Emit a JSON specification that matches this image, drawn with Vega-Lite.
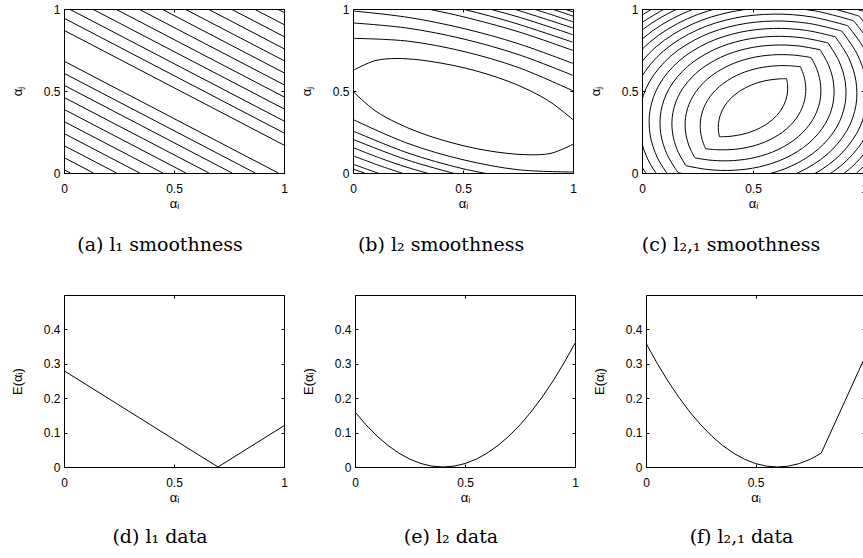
{
  "$schema": "https://vega.github.io/schema/vega-lite/v6.json",
  "padding": {"left": 10, "top": 2, "right": 0, "bottom": 0},
  "background": "white",
  "config": {
    "view": {"stroke": "black", "strokeWidth": 1},
    "axis": {"grid": false, "domain": false, "ticks": true, "tickSize": -3, "tickColor": "black", "tickWidth": 1,
      "labelFont": "Liberation Sans", "labelFontSize": 12, "labelColor": "black", "labelPadding": 7,
      "titleFont": "Liberation Sans", "titleFontSize": 13, "titleFontWeight": "normal", "titleColor": "black",
      "labelOverlap": false, "labelBound": false, "labelFlush": false},
    "axisBottom": {"titlePadding": 3, "labelPadding": 13},
    "axisLeft": {"minExtent": 30, "maxExtent": 30, "titlePadding": 10},
    "axisTop": {"labels": false, "title": null, "minExtent": 0, "maxExtent": 0},
    "axisRight": {"labels": false, "title": null, "minExtent": 0, "maxExtent": 0},
    "title": {"font": "DejaVu Serif", "fontSize": 19, "fontWeight": "normal", "color": "black", "orient": "bottom", "anchor": "middle", "offset": 26}
  },
  "datasets": {
    "a": [
      {"x1": 0, "y1": 0.02, "x2": 0.029, "y2": 0},
      {"x1": 0, "y1": 0.094, "x2": 0.134, "y2": 0},
      {"x1": 0, "y1": 0.167, "x2": 0.239, "y2": 0},
      {"x1": 0, "y1": 0.241, "x2": 0.344, "y2": 0},
      {"x1": 0, "y1": 0.314, "x2": 0.449, "y2": 0},
      {"x1": 0, "y1": 0.388, "x2": 0.554, "y2": 0},
      {"x1": 0, "y1": 0.461, "x2": 0.659, "y2": 0},
      {"x1": 0, "y1": 0.535, "x2": 0.764, "y2": 0},
      {"x1": 0, "y1": 0.608, "x2": 0.869, "y2": 0},
      {"x1": 0, "y1": 0.682, "x2": 0.974, "y2": 0},
      {"x1": 0, "y1": 0.87, "x2": 1, "y2": 0.17},
      {"x1": 0, "y1": 0.944, "x2": 1, "y2": 0.244},
      {"x1": 0.024, "y1": 1, "x2": 1, "y2": 0.317},
      {"x1": 0.129, "y1": 1, "x2": 1, "y2": 0.391},
      {"x1": 0.234, "y1": 1, "x2": 1, "y2": 0.464},
      {"x1": 0.339, "y1": 1, "x2": 1, "y2": 0.538},
      {"x1": 0.444, "y1": 1, "x2": 1, "y2": 0.611},
      {"x1": 0.549, "y1": 1, "x2": 1, "y2": 0.685},
      {"x1": 0.654, "y1": 1, "x2": 1, "y2": 0.758},
      {"x1": 0.759, "y1": 1, "x2": 1, "y2": 0.832},
      {"x1": 0.864, "y1": 1, "x2": 1, "y2": 0.905},
      {"x1": 0.969, "y1": 1, "x2": 1, "y2": 0.979}
    ],
    "b": [
      {"c": "e1t", "o": 0, "x": 0, "y": 0.625}, {"c": "e1t", "o": 1, "x": 0.1, "y": 0.685}, {"c": "e1t", "o": 2, "x": 0.2, "y": 0.698}, {"c": "e1t", "o": 3, "x": 0.3, "y": 0.69}, {"c": "e1t", "o": 4, "x": 0.4, "y": 0.67}, {"c": "e1t", "o": 5, "x": 0.5, "y": 0.643}, {"c": "e1t", "o": 6, "x": 0.6, "y": 0.607}, {"c": "e1t", "o": 7, "x": 0.7, "y": 0.562}, {"c": "e1t", "o": 8, "x": 0.8, "y": 0.505}, {"c": "e1t", "o": 9, "x": 0.9, "y": 0.43}, {"c": "e1t", "o": 10, "x": 1, "y": 0.325},
      {"c": "e1b", "o": 0, "x": 0, "y": 0.497}, {"c": "e1b", "o": 1, "x": 0.1, "y": 0.38}, {"c": "e1b", "o": 2, "x": 0.2, "y": 0.305}, {"c": "e1b", "o": 3, "x": 0.3, "y": 0.248}, {"c": "e1b", "o": 4, "x": 0.4, "y": 0.203}, {"c": "e1b", "o": 5, "x": 0.5, "y": 0.167}, {"c": "e1b", "o": 6, "x": 0.6, "y": 0.139}, {"c": "e1b", "o": 7, "x": 0.7, "y": 0.12}, {"c": "e1b", "o": 8, "x": 0.8, "y": 0.111}, {"c": "e1b", "o": 9, "x": 0.9, "y": 0.12}, {"c": "e1b", "o": 10, "x": 1, "y": 0.175},
      {"c": "u2", "o": 0, "x": 0, "y": 0.821}, {"c": "u2", "o": 1, "x": 0.25, "y": 0.804}, {"c": "u2", "o": 2, "x": 0.5, "y": 0.742}, {"c": "u2", "o": 3, "x": 0.75, "y": 0.644}, {"c": "u2", "o": 4, "x": 1, "y": 0.501},
      {"c": "u3", "o": 0, "x": 0, "y": 0.915}, {"c": "u3", "o": 1, "x": 0.25, "y": 0.883}, {"c": "u3", "o": 2, "x": 0.5, "y": 0.818}, {"c": "u3", "o": 3, "x": 0.75, "y": 0.723}, {"c": "u3", "o": 4, "x": 1, "y": 0.595},
      {"c": "u4", "o": 0, "x": 0, "y": 0.988}, {"c": "u4", "o": 1, "x": 0.25, "y": 0.949}, {"c": "u4", "o": 2, "x": 0.5, "y": 0.882}, {"c": "u4", "o": 3, "x": 0.75, "y": 0.789}, {"c": "u4", "o": 4, "x": 1, "y": 0.668},
      {"c": "u5", "o": 0, "x": 0.25, "y": 1.022}, {"c": "u5", "o": 1, "x": 0.375, "y": 0.99}, {"c": "u5", "o": 2, "x": 0.5, "y": 0.953}, {"c": "u5", "o": 3, "x": 0.75, "y": 0.862}, {"c": "u5", "o": 4, "x": 1, "y": 0.747},
      {"c": "u6", "o": 0, "x": 0.375, "y": 1.036}, {"c": "u6", "o": 1, "x": 0.5, "y": 0.999}, {"c": "u6", "o": 2, "x": 0.625, "y": 0.956}, {"c": "u6", "o": 3, "x": 0.75, "y": 0.908}, {"c": "u6", "o": 4, "x": 1, "y": 0.797},
      {"c": "u7", "o": 0, "x": 0.5, "y": 1.042}, {"c": "u7", "o": 1, "x": 0.75, "y": 0.952}, {"c": "u7", "o": 2, "x": 1, "y": 0.843},
      {"c": "u8", "o": 0, "x": 0.625, "y": 1.039}, {"c": "u8", "o": 1, "x": 0.75, "y": 0.992}, {"c": "u8", "o": 2, "x": 1, "y": 0.884},
      {"c": "u9", "o": 0, "x": 0.75, "y": 1.028}, {"c": "u9", "o": 1, "x": 0.875, "y": 0.977}, {"c": "u9", "o": 2, "x": 1, "y": 0.922},
      {"c": "u10", "o": 0, "x": 0.75, "y": 1.062}, {"c": "u10", "o": 1, "x": 0.875, "y": 1.012}, {"c": "u10", "o": 2, "x": 1, "y": 0.957},
      {"c": "u11", "o": 0, "x": 0.875, "y": 1.037}, {"c": "u11", "o": 1, "x": 1, "y": 0.983},
      {"c": "l1", "o": 0, "x": 0, "y": 0.326}, {"c": "l1", "o": 1, "x": 0.25, "y": 0.18}, {"c": "l1", "o": 2, "x": 0.5, "y": 0.081}, {"c": "l1", "o": 3, "x": 0.75, "y": 0.02}, {"c": "l1", "o": 4, "x": 1, "y": 0.006},
      {"c": "l2", "o": 0, "x": 0, "y": 0.256}, {"c": "l2", "o": 1, "x": 0.25, "y": 0.122}, {"c": "l2", "o": 2, "x": 0.5, "y": 0.026}, {"c": "l2", "o": 3, "x": 0.75, "y": -0.038},
      {"c": "l3", "o": 0, "x": 0, "y": 0.205}, {"c": "l3", "o": 1, "x": 0.25, "y": 0.078}, {"c": "l3", "o": 2, "x": 0.5, "y": -0.017},
      {"c": "l4", "o": 0, "x": 0, "y": 0.155}, {"c": "l4", "o": 1, "x": 0.125, "y": 0.09}, {"c": "l4", "o": 2, "x": 0.25, "y": 0.033}, {"c": "l4", "o": 3, "x": 0.5, "y": -0.06},
      {"c": "l5", "o": 0, "x": 0, "y": 0.105}, {"c": "l5", "o": 1, "x": 0.125, "y": 0.043}, {"c": "l5", "o": 2, "x": 0.25, "y": -0.013},
      {"c": "l6", "o": 0, "x": 0, "y": 0.054}, {"c": "l6", "o": 1, "x": 0.125, "y": -0.006}, {"c": "l6", "o": 2, "x": 0.25, "y": -0.06},
      {"c": "l7", "o": 0, "x": 0, "y": 0.024}, {"c": "l7", "o": 1, "x": 0.125, "y": -0.035}
    ],
    "c": [
      {"c": "k1u", "o": 0, "x": 0.349, "y": 0.221}, {"c": "k1u", "o": 1, "x": 0.3445, "y": 0.2556}, {"c": "k1u", "o": 2, "x": 0.3444, "y": 0.3016}, {"c": "k1u", "o": 3, "x": 0.3531, "y": 0.3553}, {"c": "k1u", "o": 4, "x": 0.3746, "y": 0.4134}, {"c": "k1u", "o": 5, "x": 0.4134, "y": 0.4721}, {"c": "k1u", "o": 6, "x": 0.4654, "y": 0.5194}, {"c": "k1u", "o": 7, "x": 0.5193, "y": 0.5497}, {"c": "k1u", "o": 8, "x": 0.5712, "y": 0.5666}, {"c": "k1u", "o": 9, "x": 0.6165, "y": 0.5736}, {"c": "k1u", "o": 10, "x": 0.651, "y": 0.575},
      {"c": "k1l", "o": 0, "x": 0.651, "y": 0.575}, {"c": "k1l", "o": 1, "x": 0.6555, "y": 0.5404}, {"c": "k1l", "o": 2, "x": 0.6556, "y": 0.4944}, {"c": "k1l", "o": 3, "x": 0.6469, "y": 0.4407}, {"c": "k1l", "o": 4, "x": 0.6254, "y": 0.3826}, {"c": "k1l", "o": 5, "x": 0.5866, "y": 0.3239}, {"c": "k1l", "o": 6, "x": 0.5346, "y": 0.2766}, {"c": "k1l", "o": 7, "x": 0.4807, "y": 0.2463}, {"c": "k1l", "o": 8, "x": 0.4288, "y": 0.2294}, {"c": "k1l", "o": 9, "x": 0.3835, "y": 0.2224}, {"c": "k1l", "o": 10, "x": 0.349, "y": 0.221},
      {"c": "k2u", "o": 0, "x": 0.2863, "y": 0.1481}, {"c": "k2u", "o": 1, "x": 0.2706, "y": 0.2048}, {"c": "k2u", "o": 2, "x": 0.2623, "y": 0.2768}, {"c": "k2u", "o": 3, "x": 0.2687, "y": 0.358}, {"c": "k2u", "o": 4, "x": 0.2954, "y": 0.4433}, {"c": "k2u", "o": 5, "x": 0.3488, "y": 0.5273}, {"c": "k2u", "o": 6, "x": 0.4236, "y": 0.5931}, {"c": "k2u", "o": 7, "x": 0.5037, "y": 0.6328}, {"c": "k2u", "o": 8, "x": 0.5829, "y": 0.6516}, {"c": "k2u", "o": 9, "x": 0.6552, "y": 0.6546}, {"c": "k2u", "o": 10, "x": 0.7137, "y": 0.6479},
      {"c": "k2l", "o": 0, "x": 0.7137, "y": 0.6479}, {"c": "k2l", "o": 1, "x": 0.7294, "y": 0.5912}, {"c": "k2l", "o": 2, "x": 0.7377, "y": 0.5192}, {"c": "k2l", "o": 3, "x": 0.7313, "y": 0.438}, {"c": "k2l", "o": 4, "x": 0.7046, "y": 0.3527}, {"c": "k2l", "o": 5, "x": 0.6512, "y": 0.2687}, {"c": "k2l", "o": 6, "x": 0.5764, "y": 0.2029}, {"c": "k2l", "o": 7, "x": 0.4963, "y": 0.1632}, {"c": "k2l", "o": 8, "x": 0.4171, "y": 0.1444}, {"c": "k2l", "o": 9, "x": 0.3448, "y": 0.1414}, {"c": "k2l", "o": 10, "x": 0.2863, "y": 0.1481},
      {"c": "k3u", "o": 0, "x": 0.2382, "y": 0.092}, {"c": "k3u", "o": 1, "x": 0.211, "y": 0.1683}, {"c": "k3u", "o": 2, "x": 0.1953, "y": 0.2612}, {"c": "k3u", "o": 3, "x": 0.1994, "y": 0.3636}, {"c": "k3u", "o": 4, "x": 0.2303, "y": 0.4697}, {"c": "k3u", "o": 5, "x": 0.295, "y": 0.5733}, {"c": "k3u", "o": 6, "x": 0.3873, "y": 0.6533}, {"c": "k3u", "o": 7, "x": 0.4874, "y": 0.7002}, {"c": "k3u", "o": 8, "x": 0.5879, "y": 0.7202}, {"c": "k3u", "o": 9, "x": 0.6822, "y": 0.7191}, {"c": "k3u", "o": 10, "x": 0.7618, "y": 0.704},
      {"c": "k3l", "o": 0, "x": 0.7618, "y": 0.704}, {"c": "k3l", "o": 1, "x": 0.789, "y": 0.6277}, {"c": "k3l", "o": 2, "x": 0.8047, "y": 0.5348}, {"c": "k3l", "o": 3, "x": 0.8006, "y": 0.4324}, {"c": "k3l", "o": 4, "x": 0.7697, "y": 0.3263}, {"c": "k3l", "o": 5, "x": 0.705, "y": 0.2227}, {"c": "k3l", "o": 6, "x": 0.6127, "y": 0.1427}, {"c": "k3l", "o": 7, "x": 0.5126, "y": 0.0958}, {"c": "k3l", "o": 8, "x": 0.4121, "y": 0.0758}, {"c": "k3l", "o": 9, "x": 0.3178, "y": 0.0769}, {"c": "k3l", "o": 10, "x": 0.2382, "y": 0.092},
      {"c": "k4u", "o": 0, "x": 0.1977, "y": 0.0446}, {"c": "k4u", "o": 1, "x": 0.1594, "y": 0.1386}, {"c": "k4u", "o": 2, "x": 0.137, "y": 0.2494}, {"c": "k4u", "o": 3, "x": 0.1394, "y": 0.3698}, {"c": "k4u", "o": 4, "x": 0.1735, "y": 0.4936}, {"c": "k4u", "o": 5, "x": 0.2479, "y": 0.6136}, {"c": "k4u", "o": 6, "x": 0.3549, "y": 0.7056}, {"c": "k4u", "o": 7, "x": 0.472, "y": 0.7586}, {"c": "k4u", "o": 8, "x": 0.5904, "y": 0.7796}, {"c": "k4u", "o": 9, "x": 0.7034, "y": 0.7748}, {"c": "k4u", "o": 10, "x": 0.8023, "y": 0.7514},
      {"c": "k4l", "o": 0, "x": 0.8023, "y": 0.7514}, {"c": "k4l", "o": 1, "x": 0.8406, "y": 0.6574}, {"c": "k4l", "o": 2, "x": 0.863, "y": 0.5466}, {"c": "k4l", "o": 3, "x": 0.8606, "y": 0.4262}, {"c": "k4l", "o": 4, "x": 0.8265, "y": 0.3024}, {"c": "k4l", "o": 5, "x": 0.7521, "y": 0.1824}, {"c": "k4l", "o": 6, "x": 0.6451, "y": 0.0904}, {"c": "k4l", "o": 7, "x": 0.528, "y": 0.0374}, {"c": "k4l", "o": 8, "x": 0.4096, "y": 0.0164}, {"c": "k4l", "o": 9, "x": 0.2966, "y": 0.0212}, {"c": "k4l", "o": 10, "x": 0.1977, "y": 0.0446},
      {"c": "k5u", "o": 0, "x": 0.1621, "y": 0.0029}, {"c": "k5u", "o": 1, "x": 0.1129, "y": 0.1134}, {"c": "k5u", "o": 2, "x": 0.0846, "y": 0.2402}, {"c": "k5u", "o": 3, "x": 0.0855, "y": 0.3761}, {"c": "k5u", "o": 4, "x": 0.1226, "y": 0.5154}, {"c": "k5u", "o": 5, "x": 0.2055, "y": 0.6499}, {"c": "k5u", "o": 6, "x": 0.3254, "y": 0.7526}, {"c": "k5u", "o": 7, "x": 0.4573, "y": 0.8109}, {"c": "k5u", "o": 8, "x": 0.5914, "y": 0.8328}, {"c": "k5u", "o": 9, "x": 0.7211, "y": 0.8246}, {"c": "k5u", "o": 10, "x": 0.8379, "y": 0.7931},
      {"c": "k5l", "o": 0, "x": 0.8379, "y": 0.7931}, {"c": "k5l", "o": 1, "x": 0.8871, "y": 0.6826}, {"c": "k5l", "o": 2, "x": 0.9154, "y": 0.5558}, {"c": "k5l", "o": 3, "x": 0.9145, "y": 0.4199}, {"c": "k5l", "o": 4, "x": 0.8774, "y": 0.2806}, {"c": "k5l", "o": 5, "x": 0.7945, "y": 0.1461}, {"c": "k5l", "o": 6, "x": 0.6746, "y": 0.0434}, {"c": "k5l", "o": 7, "x": 0.5427, "y": -0.0149}, {"c": "k5l", "o": 8, "x": 0.4086, "y": -0.0368}, {"c": "k5l", "o": 9, "x": 0.2789, "y": -0.0286}, {"c": "k5l", "o": 10, "x": 0.1621, "y": 0.0029},
      {"c": "k6u", "o": 0, "x": 0.1298, "y": -0.0348}, {"c": "k6u", "o": 1, "x": 0.0702, "y": 0.091}, {"c": "k6u", "o": 2, "x": 0.0367, "y": 0.2323}, {"c": "k6u", "o": 3, "x": 0.0362, "y": 0.3826}, {"c": "k6u", "o": 4, "x": 0.0761, "y": 0.5356}, {"c": "k6u", "o": 5, "x": 0.1666, "y": 0.6832}, {"c": "k6u", "o": 6, "x": 0.2983, "y": 0.7954}, {"c": "k6u", "o": 7, "x": 0.4434, "y": 0.8586}, {"c": "k6u", "o": 8, "x": 0.5919, "y": 0.8815}, {"c": "k6u", "o": 9, "x": 0.7366, "y": 0.8702}, {"c": "k6u", "o": 10, "x": 0.8702, "y": 0.8308},
      {"c": "k6l", "o": 0, "x": 0.8702, "y": 0.8308}, {"c": "k6l", "o": 1, "x": 0.9298, "y": 0.705}, {"c": "k6l", "o": 2, "x": 0.9633, "y": 0.5637}, {"c": "k6l", "o": 3, "x": 0.9638, "y": 0.4134}, {"c": "k6l", "o": 4, "x": 0.9239, "y": 0.2604}, {"c": "k6l", "o": 5, "x": 0.8334, "y": 0.1128}, {"c": "k6l", "o": 6, "x": 0.7017, "y": 0.0006}, {"c": "k6l", "o": 7, "x": 0.5566, "y": -0.0626}, {"c": "k6l", "o": 8, "x": 0.4081, "y": -0.0855}, {"c": "k6l", "o": 9, "x": 0.2634, "y": -0.0742}, {"c": "k6l", "o": 10, "x": 0.1298, "y": -0.0348},
      {"c": "k7u", "o": 0, "x": 0.1002, "y": -0.0695}, {"c": "k7u", "o": 1, "x": 0.0307, "y": 0.071}, {"c": "k7u", "o": 2, "x": -0.0079, "y": 0.2254}, {"c": "k7u", "o": 3, "x": -0.0096, "y": 0.3887}, {"c": "k7u", "o": 4, "x": 0.033, "y": 0.5547}, {"c": "k7u", "o": 5, "x": 0.1304, "y": 0.7141}, {"c": "k7u", "o": 6, "x": 0.2728, "y": 0.8351}, {"c": "k7u", "o": 7, "x": 0.4302, "y": 0.9029}, {"c": "k7u", "o": 8, "x": 0.5917, "y": 0.9266}, {"c": "k7u", "o": 9, "x": 0.7503, "y": 0.9124}, {"c": "k7u", "o": 10, "x": 0.8998, "y": 0.8655},
      {"c": "k7l", "o": 0, "x": 0.8998, "y": 0.8655}, {"c": "k7l", "o": 1, "x": 0.9693, "y": 0.725}, {"c": "k7l", "o": 2, "x": 1.0079, "y": 0.5706}, {"c": "k7l", "o": 3, "x": 1.0096, "y": 0.4073}, {"c": "k7l", "o": 4, "x": 0.967, "y": 0.2413}, {"c": "k7l", "o": 5, "x": 0.8696, "y": 0.0819}, {"c": "k7l", "o": 6, "x": 0.7272, "y": -0.0391}, {"c": "k7l", "o": 7, "x": 0.5698, "y": -0.1069}, {"c": "k7l", "o": 8, "x": 0.4083, "y": -0.1306}, {"c": "k7l", "o": 9, "x": 0.2497, "y": -0.1164}, {"c": "k7l", "o": 10, "x": 0.1002, "y": -0.0695},
      {"c": "k8u", "o": 0, "x": 0.0726, "y": -0.1018}, {"c": "k8u", "o": 1, "x": -0.0067, "y": 0.0525}, {"c": "k8u", "o": 2, "x": -0.0498, "y": 0.2192}, {"c": "k8u", "o": 3, "x": -0.0526, "y": 0.3946}, {"c": "k8u", "o": 4, "x": -0.0075, "y": 0.5724}, {"c": "k8u", "o": 5, "x": 0.0964, "y": 0.7432}, {"c": "k8u", "o": 6, "x": 0.2489, "y": 0.8724}, {"c": "k8u", "o": 7, "x": 0.4176, "y": 0.9446}, {"c": "k8u", "o": 8, "x": 0.5914, "y": 0.9688}, {"c": "k8u", "o": 9, "x": 0.7627, "y": 0.9521}, {"c": "k8u", "o": 10, "x": 0.9274, "y": 0.8978},
      {"c": "k8l", "o": 0, "x": 0.9274, "y": 0.8978}, {"c": "k8l", "o": 1, "x": 1.0067, "y": 0.7435}, {"c": "k8l", "o": 2, "x": 1.0498, "y": 0.5768}, {"c": "k8l", "o": 3, "x": 1.0526, "y": 0.4014}, {"c": "k8l", "o": 4, "x": 1.0075, "y": 0.2236}, {"c": "k8l", "o": 5, "x": 0.9036, "y": 0.0528}, {"c": "k8l", "o": 6, "x": 0.7511, "y": -0.0764}, {"c": "k8l", "o": 7, "x": 0.5824, "y": -0.1486}, {"c": "k8l", "o": 8, "x": 0.4086, "y": -0.1728},
      {"c": "k9u", "o": 0, "x": 0.0466, "y": -0.1321}, {"c": "k9u", "o": 1, "x": -0.0419, "y": 0.0354}, {"c": "k9u", "o": 2, "x": -0.0893, "y": 0.2136}, {"c": "k9u", "o": 3, "x": -0.093, "y": 0.4005}, {"c": "k9u", "o": 4, "x": -0.0457, "y": 0.5893}, {"c": "k9u", "o": 5, "x": 0.0644, "y": 0.7705}, {"c": "k9u", "o": 6, "x": 0.2263, "y": 0.9075}, {"c": "k9u", "o": 7, "x": 0.4056, "y": 0.9835}, {"c": "k9u", "o": 8, "x": 0.5907, "y": 1.0088}, {"c": "k9u", "o": 9, "x": 0.7743, "y": 0.9896}, {"c": "k9u", "o": 10, "x": 0.9534, "y": 0.9281},
      {"c": "k9l", "o": 0, "x": 0.9534, "y": 0.9281}, {"c": "k9l", "o": 1, "x": 1.0419, "y": 0.7606}, {"c": "k9l", "o": 2, "x": 1.0893, "y": 0.5824}, {"c": "k9l", "o": 3, "x": 1.093, "y": 0.3955}, {"c": "k9l", "o": 4, "x": 1.0457, "y": 0.2067}, {"c": "k9l", "o": 5, "x": 0.9356, "y": 0.0255}, {"c": "k9l", "o": 6, "x": 0.7737, "y": -0.1115}, {"c": "k9l", "o": 7, "x": 0.5944, "y": -0.1875},
      {"c": "k10u", "o": 0, "x": 0.0221, "y": -0.1608}, {"c": "k10u", "o": 1, "x": -0.0754, "y": 0.0194}, {"c": "k10u", "o": 2, "x": -0.1269, "y": 0.2085}, {"c": "k10u", "o": 3, "x": -0.1317, "y": 0.4061}, {"c": "k10u", "o": 4, "x": -0.0821, "y": 0.6055}, {"c": "k10u", "o": 5, "x": 0.034, "y": 0.7966}, {"c": "k10u", "o": 6, "x": 0.2047, "y": 0.9409}, {"c": "k10u", "o": 7, "x": 0.3941, "y": 1.0207}, {"c": "k10u", "o": 8, "x": 0.5899, "y": 1.0467}, {"c": "k10u", "o": 9, "x": 0.7848, "y": 1.0252}, {"c": "k10u", "o": 10, "x": 0.9779, "y": 0.9568},
      {"c": "k10l", "o": 0, "x": 0.9779, "y": 0.9568}, {"c": "k10l", "o": 1, "x": 1.0754, "y": 0.7766}, {"c": "k10l", "o": 2, "x": 1.1269, "y": 0.5875}, {"c": "k10l", "o": 3, "x": 1.1317, "y": 0.3899}, {"c": "k10l", "o": 4, "x": 1.0821, "y": 0.1905}, {"c": "k10l", "o": 5, "x": 0.966, "y": -0.0006}, {"c": "k10l", "o": 6, "x": 0.7953, "y": -0.1449}, {"c": "k10l", "o": 7, "x": 0.6059, "y": -0.2247},
      {"c": "k11u", "o": 0, "x": -0.1683, "y": 0.4115}, {"c": "k11u", "o": 1, "x": -0.116, "y": 0.621}, {"c": "k11u", "o": 2, "x": 0.0049, "y": 0.8214}, {"c": "k11u", "o": 3, "x": 0.184, "y": 0.9726}, {"c": "k11u", "o": 4, "x": 0.3831, "y": 1.0561}, {"c": "k11u", "o": 5, "x": 0.589, "y": 1.0829}, {"c": "k11u", "o": 6, "x": 0.7947, "y": 1.0592}, {"c": "k11u", "o": 7, "x": 1.0012, "y": 0.984},
      {"c": "k12u", "o": 0, "x": -0.1498, "y": 0.6359}, {"c": "k12u", "o": 1, "x": -0.023, "y": 0.8453}, {"c": "k12u", "o": 2, "x": 0.1642, "y": 1.0031}, {"c": "k12u", "o": 3, "x": 0.3724, "y": 1.09},
      {"c": "k13u", "o": 0, "x": -0.1817, "y": 0.6501}, {"c": "k13u", "o": 1, "x": -0.0497, "y": 0.8681}, {"c": "k13u", "o": 2, "x": 0.1453, "y": 1.0323},
      {"c": "k14u", "o": 0, "x": -0.2126, "y": 0.6595}, {"c": "k14u", "o": 1, "x": -0.0755, "y": 0.8902}, {"c": "k14u", "o": 2, "x": 0.1268, "y": 1.0607}
    ],
    "d": [{"x": 0, "y": 0.28}, {"x": 0.7, "y": 0}, {"x": 1, "y": 0.12}],
    "e": [
      {"x": 0, "y": 0.16}, {"x": 0.05, "y": 0.1225}, {"x": 0.1, "y": 0.09}, {"x": 0.15, "y": 0.0625}, {"x": 0.2, "y": 0.04}, {"x": 0.25, "y": 0.0225}, {"x": 0.3, "y": 0.01}, {"x": 0.35, "y": 0.0025}, {"x": 0.4, "y": 0}, {"x": 0.45, "y": 0.0025}, {"x": 0.5, "y": 0.01}, {"x": 0.55, "y": 0.0225}, {"x": 0.6, "y": 0.04}, {"x": 0.65, "y": 0.0625}, {"x": 0.7, "y": 0.09}, {"x": 0.75, "y": 0.1225}, {"x": 0.8, "y": 0.16}, {"x": 0.85, "y": 0.2025}, {"x": 0.9, "y": 0.25}, {"x": 0.95, "y": 0.3025}, {"x": 1, "y": 0.36}
    ],
    "f": [
      {"x": 0, "y": 0.36}, {"x": 0.05, "y": 0.3025}, {"x": 0.1, "y": 0.25}, {"x": 0.15, "y": 0.2025}, {"x": 0.2, "y": 0.16}, {"x": 0.25, "y": 0.1225}, {"x": 0.3, "y": 0.09}, {"x": 0.35, "y": 0.0625}, {"x": 0.4, "y": 0.04}, {"x": 0.45, "y": 0.0225}, {"x": 0.5, "y": 0.01}, {"x": 0.55, "y": 0.0025}, {"x": 0.6, "y": 0}, {"x": 0.65, "y": 0.0025}, {"x": 0.7, "y": 0.01}, {"x": 0.75, "y": 0.0225}, {"x": 0.8, "y": 0.04}, {"x": 1, "y": 0.32}
    ]
  },
  "bounds": "flush",
  "spacing": 286,
  "vconcat": [
    {
      "bounds": "flush",
      "spacing": 69,
      "hconcat": [
        {
          "width": 220, "height": 164,
          "title": {"text": "(a) l₁ smoothness", "dx": -14},
          "data": {"name": "a"},
          "layer": [
            {
              "mark": {"type": "rule", "color": "black", "strokeWidth": 1, "clip": true},
              "encoding": {
                "x": {"field": "x1", "type": "quantitative", "scale": {"domain": [0, 1], "nice": false, "zero": false}, "axis": {"values": [0, 0.5, 1], "format": "~g", "title": "αᵢ"}},
                "y": {"field": "y1", "type": "quantitative", "scale": {"domain": [0, 1], "nice": false, "zero": false}, "axis": {"values": [0, 0.5, 1], "format": "~g", "title": "αⱼ"}},
                "x2": {"field": "x2"},
                "y2": {"field": "y2"}
              }
            },
            {
              "mark": {"type": "point", "opacity": 0, "clip": true},
              "encoding": {
                "x": {"field": "x1", "type": "quantitative", "scale": {"domain": [0, 1], "nice": false, "zero": false}, "axis": {"orient": "top", "values": [0, 0.5, 1]}},
                "y": {"field": "y1", "type": "quantitative", "scale": {"domain": [0, 1], "nice": false, "zero": false}, "axis": {"orient": "right", "values": [0, 0.5, 1]}}
              }
            }
          ],
          "resolve": {"axis": {"x": "independent", "y": "independent"}}
        },
        {
          "width": 220, "height": 164,
          "title": {"text": "(b) l₂ smoothness", "dx": -22},
          "data": {"name": "b"},
          "layer": [
            {
              "mark": {"type": "line", "color": "black", "strokeWidth": 1, "clip": true, "interpolate": "catmull-rom"},
              "encoding": {
                "x": {"field": "x", "type": "quantitative", "scale": {"domain": [0, 1], "nice": false, "zero": false}, "axis": {"values": [0, 0.5, 1], "format": "~g", "title": "αᵢ"}},
                "y": {"field": "y", "type": "quantitative", "scale": {"domain": [0, 1], "nice": false, "zero": false}, "axis": {"values": [0, 0.5, 1], "format": "~g", "title": "αⱼ"}},
                "detail": {"field": "c"},
                "order": {"field": "o"}
              }
            },
            {
              "mark": {"type": "point", "opacity": 0, "clip": true},
              "encoding": {
                "x": {"field": "x", "type": "quantitative", "scale": {"domain": [0, 1], "nice": false, "zero": false}, "axis": {"orient": "top", "values": [0, 0.5, 1]}},
                "y": {"field": "y", "type": "quantitative", "scale": {"domain": [0, 1], "nice": false, "zero": false}, "axis": {"orient": "right", "values": [0, 0.5, 1]}}
              }
            }
          ],
          "resolve": {"axis": {"x": "independent", "y": "independent"}}
        },
        {
          "width": 222, "height": 164,
          "title": {"text": "(c) l₂,₁ smoothness", "dx": -22},
          "data": {"name": "c"},
          "layer": [
            {
              "mark": {"type": "line", "color": "black", "strokeWidth": 1, "clip": true, "interpolate": "catmull-rom"},
              "encoding": {
                "x": {"field": "x", "type": "quantitative", "scale": {"domain": [0, 1], "nice": false, "zero": false}, "axis": {"values": [0, 0.5, 1], "format": "~g", "title": "αᵢ"}},
                "y": {"field": "y", "type": "quantitative", "scale": {"domain": [0, 1], "nice": false, "zero": false}, "axis": {"values": [0, 0.5, 1], "format": "~g", "title": "αⱼ"}},
                "detail": {"field": "c"},
                "order": {"field": "o"}
              }
            },
            {
              "mark": {"type": "point", "opacity": 0, "clip": true},
              "encoding": {
                "x": {"field": "x", "type": "quantitative", "scale": {"domain": [0, 1], "nice": false, "zero": false}, "axis": {"orient": "top", "values": [0, 0.5, 1]}},
                "y": {"field": "y", "type": "quantitative", "scale": {"domain": [0, 1], "nice": false, "zero": false}, "axis": {"orient": "right", "values": [0, 0.5, 1]}}
              }
            }
          ],
          "resolve": {"axis": {"x": "independent", "y": "independent"}}
        }
      ]
    },
    {
      "bounds": "flush",
      "spacing": 71,
      "hconcat": [
        {
          "width": 220, "height": 172,
          "title": {"text": "(d) l₁ data", "dx": -14, "offset": 24},
          "data": {"name": "d"},
          "layer": [
            {
              "mark": {"type": "line", "color": "black", "strokeWidth": 1, "clip": true},
              "encoding": {
                "x": {"field": "x", "type": "quantitative", "scale": {"domain": [0, 1], "nice": false, "zero": false}, "axis": {"values": [0, 0.5, 1], "format": "~g", "title": "αᵢ"}},
                "y": {"field": "y", "type": "quantitative", "scale": {"domain": [0, 0.5], "nice": false, "zero": false}, "axis": {"values": [0, 0.1, 0.2, 0.3, 0.4], "format": "~g", "title": "E(αᵢ)"}}
              }
            },
            {
              "mark": {"type": "point", "opacity": 0, "clip": true},
              "encoding": {
                "x": {"field": "x", "type": "quantitative", "scale": {"domain": [0, 1], "nice": false, "zero": false}, "axis": {"orient": "top", "values": [0, 0.5, 1]}},
                "y": {"field": "y", "type": "quantitative", "scale": {"domain": [0, 0.5], "nice": false, "zero": false}, "axis": {"orient": "right", "values": [0, 0.1, 0.2, 0.3, 0.4]}}
              }
            }
          ],
          "resolve": {"axis": {"x": "independent", "y": "independent"}}
        },
        {
          "width": 220, "height": 172,
          "title": {"text": "(e) l₂ data", "dx": -14, "offset": 24},
          "data": {"name": "e"},
          "layer": [
            {
              "mark": {"type": "line", "color": "black", "strokeWidth": 1, "clip": true},
              "encoding": {
                "x": {"field": "x", "type": "quantitative", "scale": {"domain": [0, 1], "nice": false, "zero": false}, "axis": {"values": [0, 0.5, 1], "format": "~g", "title": "αᵢ"}},
                "y": {"field": "y", "type": "quantitative", "scale": {"domain": [0, 0.5], "nice": false, "zero": false}, "axis": {"values": [0, 0.1, 0.2, 0.3, 0.4], "format": "~g", "title": "E(αᵢ)"}}
              }
            },
            {
              "mark": {"type": "point", "opacity": 0, "clip": true},
              "encoding": {
                "x": {"field": "x", "type": "quantitative", "scale": {"domain": [0, 1], "nice": false, "zero": false}, "axis": {"orient": "top", "values": [0, 0.5, 1]}},
                "y": {"field": "y", "type": "quantitative", "scale": {"domain": [0, 0.5], "nice": false, "zero": false}, "axis": {"orient": "right", "values": [0, 0.1, 0.2, 0.3, 0.4]}}
              }
            }
          ],
          "resolve": {"axis": {"x": "independent", "y": "independent"}}
        },
        {
          "width": 219, "height": 172,
          "title": {"text": "(f) l₂,₁ data", "dx": -14, "offset": 24},
          "data": {"name": "f"},
          "layer": [
            {
              "mark": {"type": "line", "color": "black", "strokeWidth": 1, "clip": true},
              "encoding": {
                "x": {"field": "x", "type": "quantitative", "scale": {"domain": [0, 1], "nice": false, "zero": false}, "axis": {"values": [0, 0.5, 1], "format": "~g", "title": "αᵢ"}},
                "y": {"field": "y", "type": "quantitative", "scale": {"domain": [0, 0.5], "nice": false, "zero": false}, "axis": {"values": [0, 0.1, 0.2, 0.3, 0.4], "format": "~g", "title": "E(αᵢ)"}}
              }
            },
            {
              "mark": {"type": "point", "opacity": 0, "clip": true},
              "encoding": {
                "x": {"field": "x", "type": "quantitative", "scale": {"domain": [0, 1], "nice": false, "zero": false}, "axis": {"orient": "top", "values": [0, 0.5, 1]}},
                "y": {"field": "y", "type": "quantitative", "scale": {"domain": [0, 0.5], "nice": false, "zero": false}, "axis": {"orient": "right", "values": [0, 0.1, 0.2, 0.3, 0.4]}}
              }
            }
          ],
          "resolve": {"axis": {"x": "independent", "y": "independent"}}
        }
      ]
    }
  ]
}
